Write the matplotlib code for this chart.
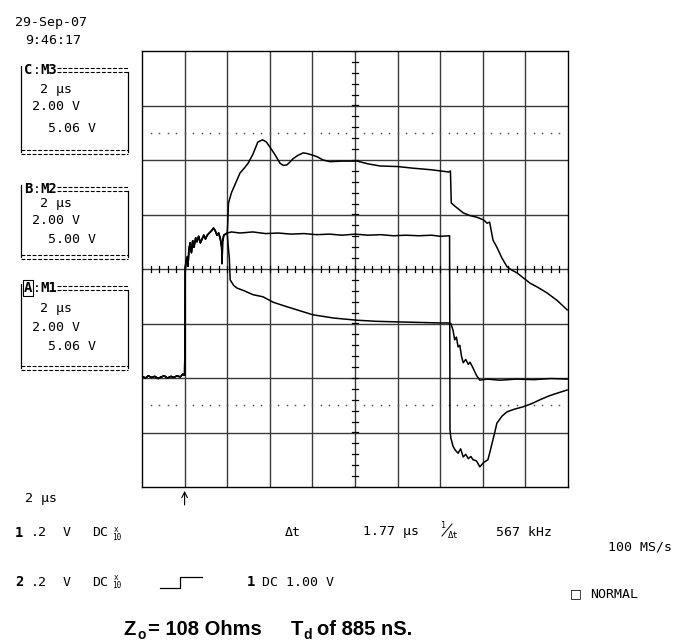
import matplotlib
matplotlib.use("Agg")
import matplotlib.pyplot as plt
import numpy as np

# --- Trace data (x in divisions 0..10, y in divisions -4..4) ---
# shared start of all three traces: baseline, trigger step, noisy rise
common_x = [0.00, 0.08, 0.15, 0.22, 0.30, 0.38, 0.45, 0.52, 0.60, 0.68, 0.75, 0.82, 0.90, 0.96,
            1.00, 1.01, 1.015, 1.03, 1.06, 1.08, 1.10, 1.13, 1.16, 1.19, 1.22, 1.26, 1.29, 1.33,
            1.37, 1.41, 1.45, 1.49, 1.53, 1.58, 1.63, 1.68, 1.72, 1.76, 1.80, 1.84, 1.87, 1.88,
            1.89, 1.92, 1.96, 2.00]
common_y = [-1.97, -2.00, -1.96, -1.99, -1.97, -2.01, -1.98, -1.96, -2.00, -1.97, -1.99, -1.96, -1.98, -1.93,
            -1.95, -1.20, 0.00, 0.12, 0.22, 0.05, 0.35, 0.48, 0.30, 0.52, 0.40, 0.57, 0.50, 0.60,
            0.48, 0.55, 0.62, 0.55, 0.62, 0.66, 0.70, 0.75, 0.70, 0.62, 0.66, 0.55, 0.40, 0.10,
            0.50, 0.62, 0.64, 0.66]

# top trace (reflection peak)
top_x = [2.01, 2.03, 2.10, 2.20, 2.30, 2.40, 2.49, 2.60, 2.72, 2.83, 2.92, 3.00, 3.12, 3.24, 3.32,
         3.40, 3.47, 3.54, 3.65, 3.78, 3.87, 4.00, 4.11, 4.25, 4.41, 4.70, 5.05, 5.30, 5.59, 6.00,
         6.36, 6.80, 7.00, 7.20, 7.24, 7.26, 7.35, 7.54, 7.70, 7.86, 8.02, 8.10, 8.16, 8.24, 8.33,
         8.45, 8.57, 8.68, 8.80, 9.11, 9.30, 9.51, 9.75, 9.98]
top_y = [0.80, 1.21, 1.40, 1.58, 1.76, 1.85, 1.94, 2.10, 2.33, 2.37, 2.33, 2.24, 2.10, 1.94, 1.90,
         1.91, 1.96, 2.02, 2.08, 2.13, 2.12, 2.09, 2.06, 2.00, 1.97, 1.98, 1.98, 1.93, 1.89, 1.88,
         1.85, 1.82, 1.80, 1.78, 1.80, 1.21, 1.15, 1.03, 0.98, 0.95, 0.90, 0.84, 0.86, 0.53, 0.40,
         0.20, 0.04, -0.02, -0.07, -0.26, -0.34, -0.44, -0.58, -0.75]

# flat trace, then negative dip
flat_x = [2.1, 2.3, 2.6, 2.9, 3.2, 3.5, 3.8, 4.1, 4.4, 4.7, 5.0, 5.3, 5.6, 5.9, 6.2, 6.5, 6.8, 7.0,
          7.22, 7.23, 7.25, 7.30, 7.35, 7.42, 7.48, 7.54, 7.60, 7.66, 7.72, 7.77, 7.85, 7.93, 8.02,
          8.12, 8.17, 8.22, 8.28, 8.33, 8.45, 8.57, 8.75, 8.94, 9.15, 9.34, 9.55, 9.74, 9.86, 9.98]
flat_y = [0.68, 0.66, 0.68, 0.65, 0.66, 0.64, 0.65, 0.63, 0.64, 0.62, 0.64, 0.62, 0.63, 0.61, 0.62,
          0.61, 0.62, 0.60, 0.61, -2.95, -3.10, -3.25, -3.32, -3.38, -3.30, -3.45, -3.40, -3.48,
          -3.44, -3.50, -3.52, -3.63, -3.55, -3.50, -3.35, -3.19, -3.00, -2.83, -2.70, -2.62,
          -2.57, -2.53, -2.47, -2.40, -2.33, -2.28, -2.25, -2.22]

# descending trace
desc_x = [2.02, 2.05, 2.07, 2.15, 2.23, 2.40, 2.60, 2.84, 3.08, 3.35, 3.64, 4.01, 4.50, 5.05, 5.50,
          5.99, 6.50, 7.00, 7.18, 7.25, 7.30, 7.34, 7.38, 7.42, 7.46, 7.50, 7.54, 7.60, 7.66, 7.70,
          7.76, 7.85, 7.93, 8.10, 8.40, 8.80, 9.20, 9.60, 9.98]
desc_y = [0.45, 0.20, -0.20, -0.30, -0.35, -0.40, -0.47, -0.51, -0.61, -0.68, -0.75, -0.84, -0.90,
          -0.94, -0.96, -0.97, -0.98, -0.99, -0.99, -1.00, -1.12, -1.30, -1.25, -1.43, -1.40, -1.60,
          -1.72, -1.66, -1.75, -1.71, -1.80, -1.95, -2.04, -2.02, -2.04, -2.02, -2.03, -2.01, -2.02]

# --- Labels ---
date_str = "29-Sep-07"
time_str = "9:46:17"
box_names = ["C", "B", "A"]
box_math = ["M3", "M2", "M1"]
box_tdiv = ["2 μs", "2 μs", "2 μs"]
box_vdiv = ["2.00 V", "2.00 V", "2.00 V"]
box_offs = ["5.06 V", "5.00 V", "5.06 V"]
footer_z = "108 Ohms"
footer_t = "of 885 nS."

W, H = 681, 644
fig = plt.figure(figsize=(W / 100, H / 100), dpi=100)
fig.patch.set_facecolor("white")

# --- Scope screen ---
gx0, gy0, gx1, gy1 = 142, 51, 568, 487
ax = fig.add_axes([gx0 / W, 1 - gy1 / H, (gx1 - gx0) / W, (gy1 - gy0) / H])
ax.set_xlim(0, 10)
ax.set_ylim(-4, 4)
ax.set_xticks([])
ax.set_yticks([])
for s in ax.spines.values():
    s.set_linewidth(1.0)
    s.set_color("black")

gc = "#3a3a3a"
for gx in range(1, 10):
    ax.axvline(gx, color=gc, lw=1.0, zorder=1)
for gy in range(-3, 4):
    ax.axhline(gy, color=gc, lw=1.0, zorder=1)

# small ticks on the centre lines
for ty in np.arange(-4, 4.01, 0.2):
    ax.plot([4.92, 5.08], [ty, ty], color="black", lw=0.9, zorder=2)
for tx in np.arange(0, 10.01, 0.2):
    ax.plot([tx, tx], [-0.06, 0.06], color="black", lw=0.9, zorder=2)

# dotted reference lines
dots = np.arange(0.2, 10, 0.2)
for dy in (2.5, -2.5):
    ax.plot(dots, np.full_like(dots, dy), ls="none", marker="s", ms=1.1,
            color="#555555", mew=0, zorder=2)

lw = 1.1
ax.plot(common_x + top_x, common_y + top_y, color="black", lw=lw, zorder=3)
ax.plot(common_x + flat_x, common_y + flat_y, color="black", lw=lw, zorder=3)
ax.plot(common_x + desc_x, common_y + desc_y, color="black", lw=lw, zorder=3)

# --- Overlay in pixel coordinates for the scope readouts ---
ov = fig.add_axes([0, 0, 1, 1], facecolor="none")
ov.set_xlim(0, W)
ov.set_ylim(H, 0)
ov.axis("off")

mono = dict(family="DejaVu Sans Mono", fontsize=9.5, color="black", va="center", ha="left")
bold = dict(family="DejaVu Sans Mono", fontsize=10, weight="bold", color="black",
            va="center", ha="left")

ov.text(15, 22, date_str, **mono)
ov.text(25, 40, time_str, **mono)

box_tops = [70, 189, 288]
box_rows = [(19, 36, 58, 82), (14, 31, 50, 68), (20, 39, 58, 80)]
for i in range(3):
    yt = box_tops[i]
    r1, r2, r3, rb = box_rows[i]
    yb = yt + rb
    ov.plot([21, 21], [yt - 4, yb], color="black", lw=0.9)
    ov.plot([128, 128], [yt + 2, yb], color="black", lw=0.9)
    for dy in (-2, 2):
        ov.plot([57, 128], [yt + dy, yt + dy], color="black", lw=0.8, ls=(0, (3.5, 1.5)))
        ov.plot([21, 128], [yb + dy, yb + dy], color="black", lw=0.8, ls=(0, (3.5, 1.5)))
    if box_names[i] == "A":
        ov.text(24, yt, box_names[i], bbox=dict(boxstyle="square,pad=0.05", fc="white",
                                                 ec="black", lw=0.8), **bold)
    else:
        ov.text(24, yt, box_names[i], **bold)
    ov.text(33, yt, ":", **mono)
    ov.text(40, yt, box_math[i], **bold)
    ov.text(40, yt + r1, box_tdiv[i], **mono)
    ov.text(32, yt + r2, box_vdiv[i], **mono)
    ov.text(48, yt + r3, box_offs[i], **mono)

# trigger arrow under the screen
ax.annotate("", xy=(1, -4.02), xytext=(1, -4.38), xycoords="data",
            arrowprops=dict(arrowstyle="->", lw=0.8, color="black"), annotation_clip=False)

# bottom readouts
ov.text(25, 498, "2 μs", **mono)
for row_y, ch in ((533, "1"), (582, "2")):
    ov.text(15, row_y, ch, **bold)
    ov.text(31, row_y, ".2", **mono)
    ov.text(63, row_y, "V", **mono)
    ov.text(92, row_y, "DC", **mono)
    ov.text(114, row_y - 4, "x", family="DejaVu Sans Mono", fontsize=5.5, va="center", ha="left")
    ov.text(112, row_y + 4, "10", family="DejaVu Sans Mono", fontsize=5.5, va="center", ha="left")

ov.text(285, 533, "Δt", **mono)
ov.text(363, 532, "1.77 μs", **mono)
ov.text(441, 526, "1", family="DejaVu Sans Mono", fontsize=6, va="center", ha="left")
ov.plot([442, 452], [536, 524], color="black", lw=0.7)
ov.text(448, 536, "Δt", family="DejaVu Sans Mono", fontsize=6.5, va="center", ha="left")
ov.text(496, 532, "567 kHz", **mono)
ov.text(608, 547, "100 MS/s", **mono)

ov.plot([160, 180, 180, 202], [588, 588, 577, 577], color="black", lw=0.9)
ov.text(247, 582, "1", **bold)
ov.text(262, 582, "DC 1.00 V", **mono)

ov.text(570, 594, "□", family="DejaVu Sans", fontsize=9, va="center", ha="left")
ov.text(590, 594, "NORMAL", **mono)

# footer
foot = dict(family="Liberation Sans", fontsize=14.5, weight="bold", color="black",
            va="baseline", ha="left")
sub = dict(family="Liberation Sans", fontsize=10, weight="bold", color="black",
           va="baseline", ha="left")
ov.text(123, 635, "Z", **foot)
ov.text(137, 639, "o", **sub)
ov.text(148, 635, "= " + footer_z, **foot)
ov.text(291, 635, "T", **foot)
ov.text(303, 639, "d", **sub)
ov.text(317, 635, footer_t, **foot)

fig.savefig("out.png", dpi=100, facecolor="white")
